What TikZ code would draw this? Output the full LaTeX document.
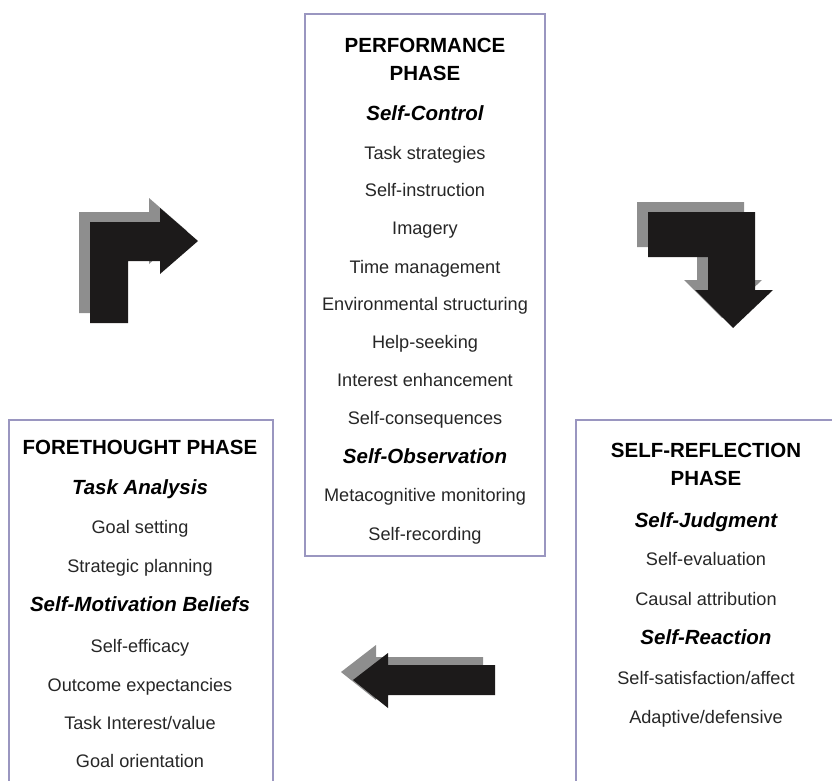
\documentclass[tikz,border=0pt]{standalone}
\usepackage{fontspec}
\setmainfont{Liberation Sans}

\definecolor{boxline}{HTML}{9A96C0}
\definecolor{shadowgray}{HTML}{8E8E8E}
\definecolor{ink}{HTML}{1C1A1A}
\definecolor{itemtext}{HTML}{262626}

\begin{document}
\begin{tikzpicture}[x=0.03cm,y=-0.03cm,
    phasebox/.style={draw=boxline,line width=1.1pt,inner sep=0pt},
    heading/.style={anchor=base,font=\fontsize{17.5}{20}\selectfont\bfseries,text=black},
    subhead/.style={anchor=base,font=\fontsize{17.5}{20}\selectfont\bfseries\itshape,text=black},
    item/.style={anchor=base,font=\fontsize{15.5}{18}\selectfont,text=itemtext}]

    \useasboundingbox (0,0) rectangle (832,781);
    \clip (0,0) rectangle (832,781);

    % the three phases
    \node [phasebox,minimum width=7.2cm,minimum height=16.26cm] (perf) at (425,285) {};
    \node [phasebox,minimum width=7.92cm,minimum height=11.4cm] (fore) at (141,610) {};
    \node [phasebox,minimum width=8.22cm,minimum height=11.4cm] (refl) at (713,610) {};

    % performance phase
    \node [heading] (perf1) at (425,52) {PERFORMANCE};
    \node [heading] (perf2) at (425,80) {PHASE};
    \node [subhead] (perf3) at (425,120) {Self-Control};
    \foreach \txt/\yy [count=\i] in {Task strategies/159,Self-instruction/196,Imagery/234,
        Time management/273,Environmental structuring/310,Help-seeking/348,
        Interest enhancement/386,Self-consequences/424}
        \node [item] (pc\i) at (425,\yy) {\txt};
    \node [subhead] (perf4) at (425,463) {Self-Observation};
    \node [item] (po1) at (425,501) {Metacognitive monitoring};
    \node [item] (po2) at (425,540) {Self-recording};

    % forethought phase
    \node [heading] (fore1) at (140,454) {FORETHOUGHT PHASE};
    \node [subhead] (fore2) at (140,494) {Task Analysis};
    \node [item] (fa1) at (140,533) {Goal setting};
    \node [item] (fa2) at (140,572) {Strategic planning};
    \node [subhead] (fore3) at (140,611) {Self-Motivation Beliefs};
    \node [item] (fm1) at (140,652) {Self-efficacy};
    \node [item] (fm2) at (140,691) {Outcome expectancies};
    \node [item] (fm3) at (140,729) {Task Interest/value};
    \node [item] (fm4) at (140,767) {Goal orientation};

    % self-reflection phase
    \node [heading] (refl1) at (706,457) {SELF-REFLECTION};
    \node [heading] (refl2) at (706,485) {PHASE};
    \node [subhead] (refl3) at (706,527) {Self-Judgment};
    \node [item] (rj1) at (706,565) {Self-evaluation};
    \node [item] (rj2) at (706,605) {Causal attribution};
    \node [subhead] (refl4) at (706,644) {Self-Reaction};
    \node [item] (rr1) at (706,684) {Self-satisfaction/affect};
    \node [item] (rr2) at (706,723) {Adaptive/defensive};

    % cycle arrows, grey shadow behind black
    \foreach \col/\dx/\dy in {shadowgray/-11/-10,ink/0/0} {
        \fill[\col,shift={(\dx,\dy)}] (90,323) -- (90,222) -- (160,222) -- (160,208)
            -- (198,241) -- (160,274) -- (160,261) -- (128,261) -- (128,323) -- cycle;
        \fill[\col,shift={(\dx,\dy)}] (648,212) -- (755,212) -- (755,290) -- (773,290)
            -- (733,328) -- (695,290) -- (708,290) -- (708,257) -- (648,257) -- cycle;
    }
    \foreach \col/\dx/\dy in {shadowgray/-12/-8,ink/0/0}
        \fill[\col,shift={(\dx,\dy)}] (495,665) -- (388,665) -- (388,653) -- (353,680)
            -- (388,708) -- (388,695) -- (495,695) -- cycle;

\end{tikzpicture}
\end{document}
